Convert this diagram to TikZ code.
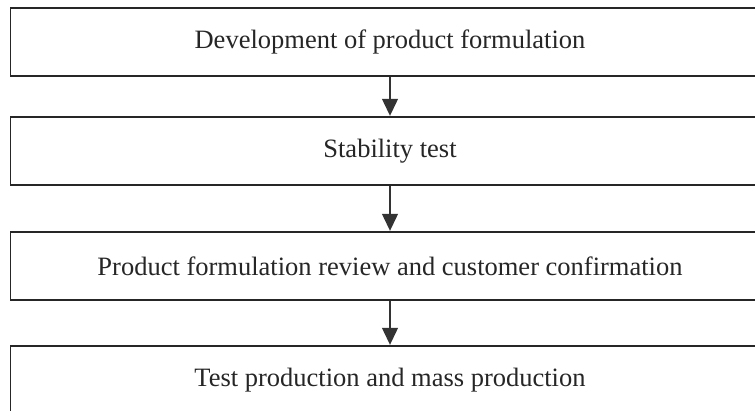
\documentclass[tikz,border=0pt]{standalone}
\usepackage{fontspec}
\setmainfont{Liberation Serif}
\usetikzlibrary{arrows.meta}
\tikzset{
  stagebox/.style={draw=black!85, line width=1.2pt, minimum width=759pt, minimum height=68pt,
    inner sep=0pt, font=\fontsize{26.5}{30}\selectfont, text=black!85},
  flowarrow/.style={draw=black!80, line width=1.2pt, -{Triangle[length=17pt, width=16pt]}, shorten >=0.6pt}
}
\begin{document}
\begin{tikzpicture}[x=1pt, y=-1pt]
  \useasboundingbox (0,0) rectangle (755,410);
  \clip (0,0) rectangle (755,410);
  \node[stagebox] (s1) at (390,42) {Development of product formulation};
  \node[stagebox] (s2) at (390,151) {Stability test};
  \node[stagebox] (s3) at (390,266) {Product formulation review and customer confirmation};
  \node[stagebox] (s4) at (390,380) {Test production and mass production};
  \draw[flowarrow] (s1.south) -- (s2.north);
  \draw[flowarrow] (s2.south) -- (s3.north);
  \draw[flowarrow] (s3.south) -- (s4.north);
\end{tikzpicture}
\end{document}
